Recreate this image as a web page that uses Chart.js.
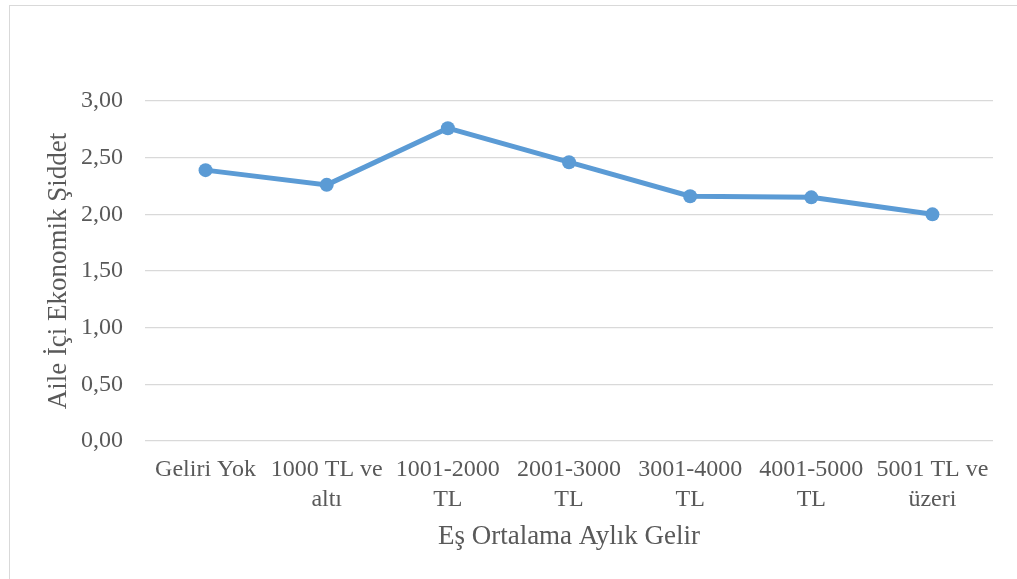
<!DOCTYPE html>
<html>
<head>
<meta charset="utf-8">
<script src="https://cdn.jsdelivr.net/npm/chart.js@4.4.0/dist/chart.umd.min.js"></script>
<style>
  html, body { margin: 0; padding: 0; background: #ffffff; }
  #wrap { position: relative; width: 1017px; height: 579px; overflow: hidden; }
  #frame { position: absolute; left: 9px; top: 5px; width: 1100px; height: 700px;
           border: 1px solid #d9d9d9; box-sizing: border-box; }
  canvas { position: absolute; left: 0; top: 0; }
</style>
</head>
<body>
<div id="wrap">
  <div id="frame"></div>
  <canvas id="c" width="1017" height="579"></canvas>
</div>
<script>
const categories = [
  "Geliri Yok",
  ["1000 TL ve", "altı"],
  ["1001-2000", "TL"],
  ["2001-3000", "TL"],
  ["3001-4000", "TL"],
  ["4001-5000", "TL"],
  ["5001 TL ve", "üzeri"]
];
const values = [2.39, 2.26, 2.76, 2.46, 2.16, 2.15, 2.00];
const yTicks = [0, 0.5, 1, 1.5, 2, 2.5, 3];
const xTitle = "Eş Ortalama Aylık Gelir";
const yTitle = "Aile İçi Ekonomik Şiddet";

const textColor = "#595959";
const fontFamily = "'Liberation Serif', 'Times New Roman', serif";

new Chart(document.getElementById("c"), {
  type: "line",
  data: {
    labels: categories,
    datasets: [{
      data: values,
      borderColor: "#5b9bd5",
      backgroundColor: "#5b9bd5",
      borderWidth: 5,
      pointRadius: 7,
      pointHoverRadius: 7,
      pointBorderWidth: 0,
      tension: 0,
      fill: false
    }]
  },
  options: {
    responsive: false,
    animation: false,
    devicePixelRatio: 1,
    layout: { padding: { left: 0, top: 101, right: 24, bottom: 0 } },
    plugins: { legend: { display: false }, tooltip: { enabled: false } },
    scales: {
      x: {
        offset: true,
        grid: { display: false, drawTicks: false },
        border: { display: false },
        ticks: {
          color: textColor,
          font: { family: fontFamily, size: 24, lineHeight: 1.25 },
          padding: 14,
          maxRotation: 0,
          autoSkip: false
        },
        title: {
          display: true,
          text: xTitle,
          color: textColor,
          font: { family: fontFamily, size: 27, lineHeight: 1.2 },
          padding: { top: 0, bottom: 26 }
        },
        afterFit: (s) => { s.height = 138; }
      },
      y: {
        min: 0,
        max: 3,
        afterBuildTicks: (s) => { s.ticks = yTicks.map(v => ({ value: v })); },
        grid: { color: "#d9d9d9", lineWidth: 1.3, drawTicks: false },
        border: { display: false },
        ticks: {
          color: textColor,
          font: { family: fontFamily, size: 24 },
          padding: 22,
          callback: (v) => Number(v).toFixed(2).replace(".", ",")
        },
        title: {
          display: true,
          text: yTitle,
          color: textColor,
          font: { family: fontFamily, size: 27, lineHeight: 1.2 },
          padding: { top: 43, bottom: 0 }
        },
        afterFit: (s) => { s.width = 145; }
      }
    }
  }
});
</script>
</body>
</html>
